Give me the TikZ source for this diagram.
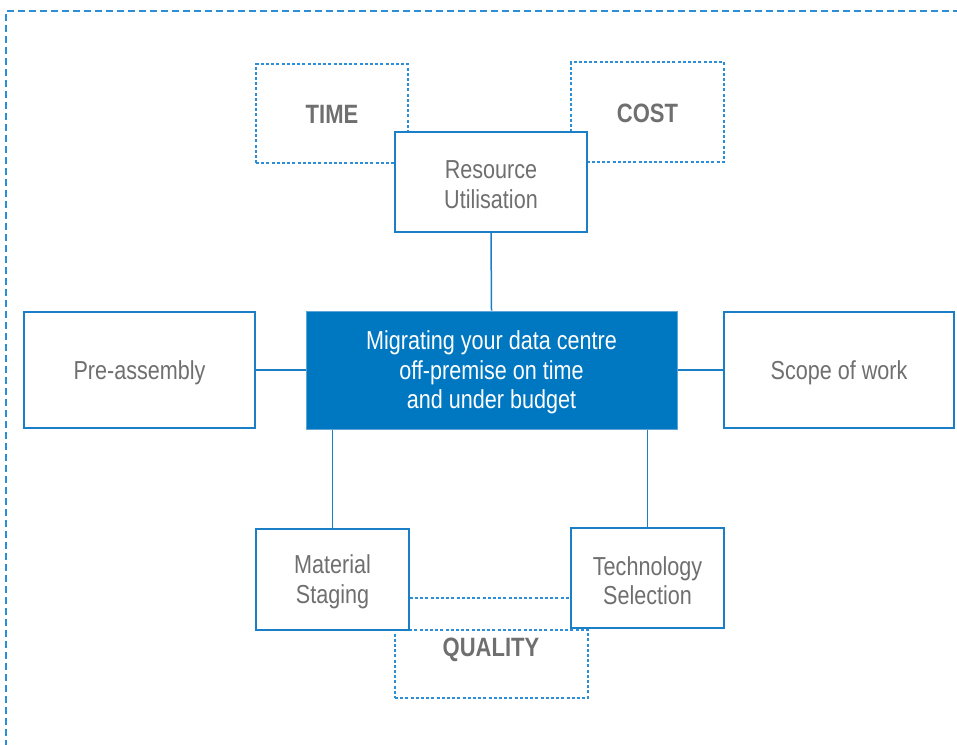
\documentclass[tikz,border=0pt]{standalone}
\usepackage{fontspec}
\setmainfont{Liberation Sans}[FakeStretch=0.83]
\definecolor{lineblue}{HTML}{1A7FC6}
\definecolor{dashblue}{HTML}{2B8ED6}
\definecolor{fillblue}{HTML}{0077C1}
\definecolor{txtgray}{HTML}{6F6F6F}
\begin{document}
\begin{tikzpicture}[x=1pt,y=-1pt,
  solidbox/.style={draw=lineblue,line width=1.5pt,fill=white,inner sep=0pt},
  centerbox/.style={draw=lineblue!70!white,line width=1pt,fill=fillblue,inner sep=0pt},
  lbl/.style={text=txtgray,align=center,font=\fontsize{26}{29.5}\selectfont,inner sep=0pt,yshift=-2.5pt},
  wlbl/.style={lbl,text=white},
  dashbox/.style={draw=dashblue,line width=1.2pt,dash pattern=on 3pt off 2.2pt,fill=none,inner sep=0pt},
  boldlbl/.style={text=txtgray,font=\fontsize{26.5}{30}\selectfont\bfseries,inner sep=0pt},
  conn/.style={draw=lineblue,line width=1.5pt},
  dconn/.style={draw=dashblue,line width=1.2pt,dash pattern=on 3pt off 2.2pt}]
\useasboundingbox (0,0) rectangle (957,744);
% outer frame (top and left visible)
\coordinate (fTR) at (960,11);
\coordinate (fTL) at (6,11);
\coordinate (fBL) at (6,750);
\draw[draw=dashblue,line width=1.5pt,dash pattern=on 7pt off 4pt] (fTR) -- (fTL) -- (fBL);
% dashed boxes
\node[dashbox,minimum width=152pt,minimum height=99pt] (time) at (332,113.5) {};
\node[boldlbl] (timet) at (332,114) {TIME};
\node[dashbox,minimum width=153pt,minimum height=100pt] (cost) at (647.5,112) {};
\node[boldlbl] (costt) at (647.5,113) {COST};
\node[dashbox,minimum width=193pt,minimum height=68pt] (quality) at (491.5,664) {};
\node[boldlbl] (qualityt) at (491,650) {QUALITY};
% solid boxes
\node[solidbox,minimum width=192pt,minimum height=100pt] (res) at (491,182) {};
\node[lbl] (rest) at (res.center) {Resource\\Utilisation};
\node[centerbox,minimum width=371pt,minimum height=118pt] (center) at (491.5,370) {};
\node[wlbl] (centert) at (center.center) {Migrating your data centre\\off-premise on time\\and under budget};
\node[solidbox,minimum width=231pt,minimum height=116pt] (pre) at (139.5,370) {};
\node[lbl] (pret) at (pre.center) {Pre-assembly};
\node[solidbox,minimum width=230pt,minimum height=116pt] (scope) at (839,370) {};
\node[lbl] (scopet) at (scope.center) {Scope of work};
\node[solidbox,minimum width=153pt,minimum height=101pt] (mat) at (332.5,579.5) {};
\node[lbl] (matt) at (mat.center) {Material\\Staging};
\node[solidbox,minimum width=153pt,minimum height=100pt] (tech) at (647.5,578) {};
\node[lbl] (techt) at (tech.center) {Technology\\Selection};
% connectors
\draw[conn] (res.south) -- (center.north);
\draw[conn] (pre.east) -- (center.west);
\draw[conn] (center.east) -- (scope.west);
\draw[conn] (center.south -| mat.north) -- (mat.north);
\draw[conn] (center.south -| tech.north) -- (tech.north);
\coordinate (qL) at (410,598);
\draw[dconn] (mat.east |- qL) -- (tech.west |- qL);
\end{tikzpicture}
\end{document}
